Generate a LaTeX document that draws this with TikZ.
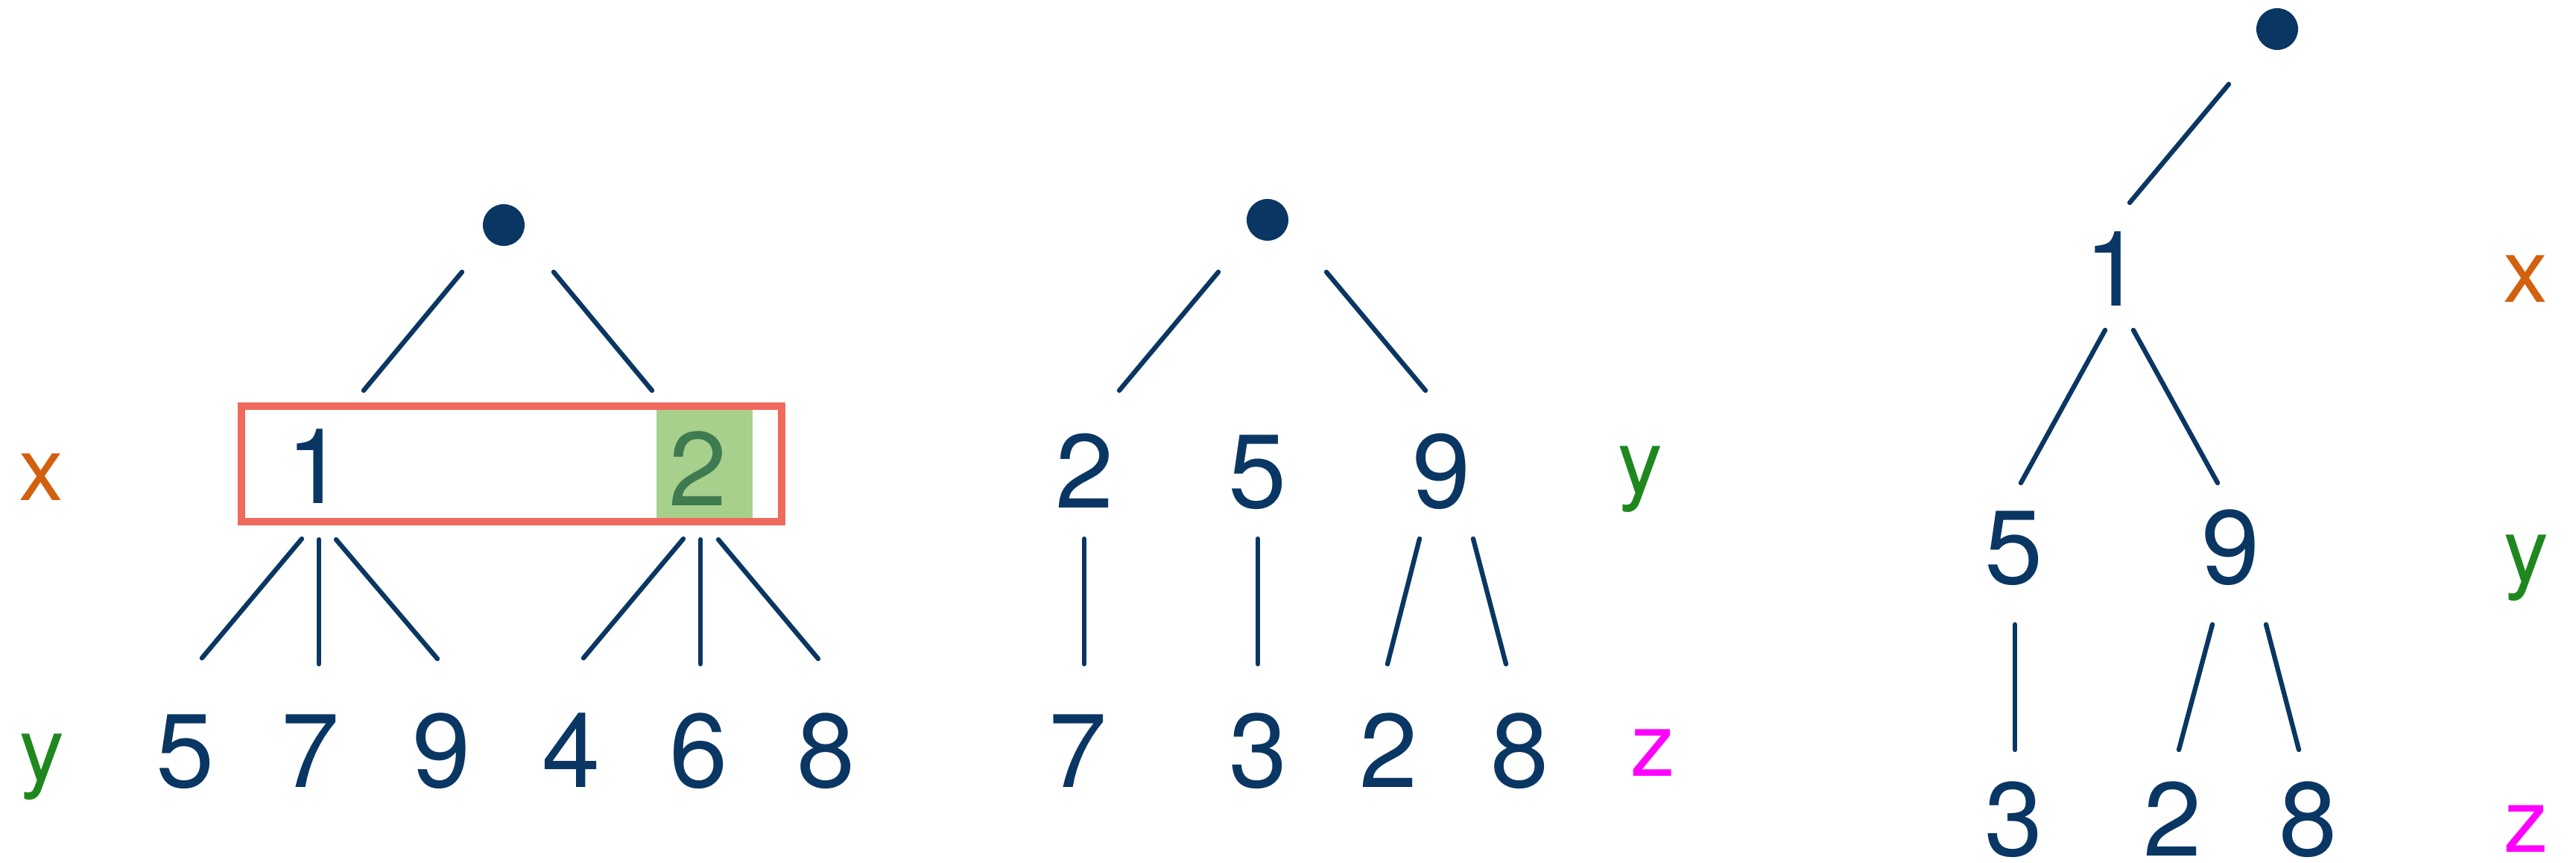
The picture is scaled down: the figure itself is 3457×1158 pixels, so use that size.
\documentclass[tikz,border=0pt]{standalone}
\usepackage{fontspec}
\setmainfont{TeX Gyre Heros}
\usetikzlibrary{calc}
\definecolor{navy}{RGB}{10,54,99}
\definecolor{boxred}{RGB}{241,105,92}
\definecolor{boxgreen}{RGB}{168,208,141}
\definecolor{twogreen}{RGB}{62,123,80}
\definecolor{labx}{RGB}{210,96,14}
\definecolor{laby}{RGB}{30,136,30}
\definecolor{labz}{RGB}{255,0,255}
\begin{document}
\begin{tikzpicture}[x=0.01cm,y=-0.01cm,
  digit/.style={font=\fontsize{40}{48}\selectfont, text=navy, inner sep=0pt, anchor=base},
  lab/.style={font=\fontsize{34}{40}\selectfont, inner sep=0pt, anchor=base},
  edge/.style={draw=navy, line width=1.8pt, line cap=round},
  dot/.style={circle, fill=navy, inner sep=0pt, minimum size=0.56cm}]
\useasboundingbox (0,0) rectangle (3457,1158);

% ---------- left tree ----------
\fill[boxgreen] (881,547) rectangle (1010,700);
\draw[boxred, line width=2.6pt] (324,545) rectangle (1049,700);
\node[dot] (dotA) at (676,302) {};
\node[lab, text=labx] (xA) at (55,671) {x};
\node[digit] (nA1) at (424,675) {1};
\node[digit, text=twogreen] (nA2) at (937,678) {2};
\node[lab, text=laby] (yA) at (56,1047) {y};
\node[digit] (nA5) at (249,1056) {5};
\node[digit] (nA7) at (417,1056) {7};
\node[digit] (nA9) at (593,1056) {9};
\node[digit] (nA4) at (767,1056) {4};
\node[digit] (nA6) at (938,1056) {6};
\node[digit] (nA8) at (1109,1056) {8};
\draw[edge] ($(dotA)+(-56,63)$) -- ($(nA1.base)+(64,-151)$);
\draw[edge] ($(dotA)+(67,63)$) -- ($(nA2.base)+(-62,-154)$);
\draw[edge] ($(nA1.base)+(-19,48)$) -- ($(nA5.base)+(22,-173)$);
\draw[edge] ($(nA1.base)+(4,49)$) -- ($(nA7.base)+(11,-165)$);
\draw[edge] ($(nA1.base)+(27,49)$) -- ($(nA9.base)+(-6,-172)$);
\draw[edge] ($(nA2.base)+(-20,45)$) -- ($(nA4.base)+(16,-173)$);
\draw[edge] ($(nA2.base)+(3,46)$) -- ($(nA6.base)+(2,-165)$);
\draw[edge] ($(nA2.base)+(27,46)$) -- ($(nA8.base)+(-11,-172)$);

% ---------- middle tree ----------
\node[dot] (dotB) at (1701,295) {};
\node[digit] (nB2) at (1456,681) {2};
\node[digit] (nB5) at (1688,681) {5};
\node[digit] (nB9) at (1935,681) {9};
\node[lab, text=laby] (yB) at (2201,661) {y};
\node[digit] (nB7) at (1447,1056) {7};
\node[digit] (nB3) at (1689,1056) {3};
\node[digit] (nBb2) at (1864,1056) {2};
\node[digit] (nB8) at (2040,1056) {8};
\node[lab, text=labz] (zB) at (2218,1041) {z};
\draw[edge] ($(dotB)+(-66,70)$) -- ($(nB2.base)+(46,-157)$);
\draw[edge] ($(dotB)+(79,70)$) -- ($(nB9.base)+(-22,-157)$);
\draw[edge] ($(nB2.base)+(-1,42)$) -- ($(nB7.base)+(8,-165)$);
\draw[edge] ($(nB5.base)+(0,42)$) -- ($(nB3.base)+(-1,-165)$);
\draw[edge] ($(nB9.base)+(-30,42)$) -- ($(nBb2.base)+(-2,-165)$);
\draw[edge] ($(nB9.base)+(42,42)$) -- ($(nB8.base)+(-19,-165)$);

% ---------- right tree ----------
\node[dot] (dotC) at (3056,39) {};
\node[digit] (nC1) at (2837,411) {1};
\node[lab, text=labx] (xC) at (3389,406) {x};
\node[digit] (nC5) at (2703,783) {5};
\node[digit] (nC9) at (2994,783) {9};
\node[lab, text=laby] (yC) at (3390,780) {y};
\node[digit] (nC3) at (2703,1148) {3};
\node[digit] (nC2) at (2916,1148) {2};
\node[digit] (nC8) at (3098,1148) {8};
\node[lab, text=labz] (zC) at (3390,1143) {z};
\draw[edge] ($(dotC)+(-65,74)$) -- ($(nC1.base)+(21,-139)$);
\draw[edge] ($(nC1.base)+(-12,32)$) -- ($(nC5.base)+(9,-135)$);
\draw[edge] ($(nC1.base)+(26,32)$) -- ($(nC9.base)+(-18,-135)$);
\draw[edge] ($(nC5.base)+(1,55)$) -- ($(nC3.base)+(1,-142)$);
\draw[edge] ($(nC9.base)+(-25,55)$) -- ($(nC2.base)+(8,-142)$);
\draw[edge] ($(nC9.base)+(47,55)$) -- ($(nC8.base)+(-13,-142)$);
\end{tikzpicture}
\end{document}
